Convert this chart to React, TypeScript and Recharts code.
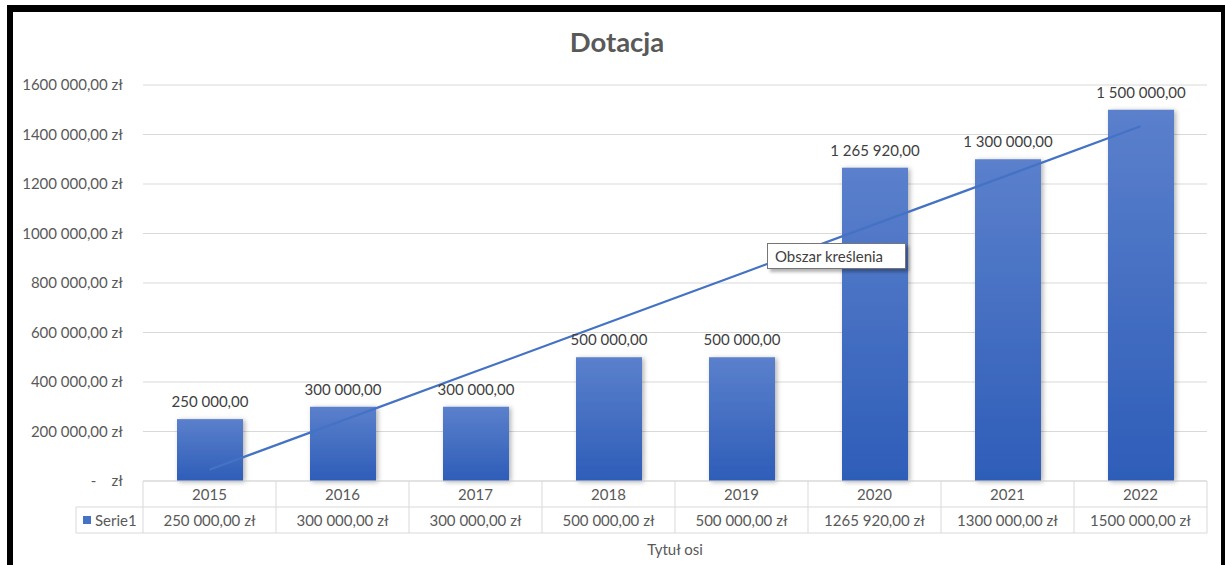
import { ComposedChart, Bar, Line, XAxis, YAxis, CartesianGrid, LabelList } from 'recharts';

const years = ['2015', '2016', '2017', '2018', '2019', '2020', '2021', '2022'];
const dotacja = [250000, 300000, 300000, 500000, 500000, 1265920, 1300000, 1500000];
const barLabels = ['250 000,00', '300 000,00', '300 000,00', '500 000,00', '500 000,00', '1 265 920,00', '1 300 000,00', '1 500 000,00'];
const tableLabels = ['250 000,00 zł', '300 000,00 zł', '300 000,00 zł', '500 000,00 zł', '500 000,00 zł', '1265 920,00 zł', '1300 000,00 zł', '1500 000,00 zł'];
const yTicks = [0, 200000, 400000, 600000, 800000, 1000000, 1200000, 1400000, 1600000];
const yTickLabels = ['-\u00a0\u00a0\u00a0\u00a0zł', '200 000,00 zł', '400 000,00 zł', '600 000,00 zł', '800 000,00 zł', '1000 000,00 zł', '1200 000,00 zł', '1400 000,00 zł', '1600 000,00 zł'];

// liniowa linia trendu (jak w Excelu)
const n = dotacja.length;
const mx = (n + 1) / 2;
const my = dotacja.reduce((s, v) => s + v, 0) / n;
const slope = dotacja.reduce((s, v, i) => s + (i + 1 - mx) * (v - my), 0) /
    dotacja.reduce((s, _v, i) => s + (i + 1 - mx) ** 2, 0);

const data = years.map((year, i) => ({
    year,
    value: dotacja[i],
    label: barLabels[i],
    table: tableLabels[i],
    trend: my + slope * (i + 1 - mx),
}));

const W = 1225;
const H = 565;
const PLOT_LEFT = 143;
const PLOT_RIGHT = 1207;
const PLOT_BOTTOM = 481;
const ROW_MID = 507;
const ROW_BOTTOM = 533;
const BAND = (PLOT_RIGHT - PLOT_LEFT) / years.length;
const FONT = "Lato, 'Open Sans', sans-serif";
const FS = 15;
const GRID = '#d9d9d9';
const TXT = '#595959';

function TableTick(props: any) {
    const { x, index } = props;
    const i = index ?? props.payload?.index ?? 0;
    const l = x - BAND / 2;
    const r = x + BAND / 2;
    return (
        <g>
            <line x1={l} x2={r} y1={PLOT_BOTTOM} y2={PLOT_BOTTOM} stroke={GRID} />
            <line x1={l} x2={r} y1={ROW_MID} y2={ROW_MID} stroke={GRID} />
            <line x1={l} x2={r} y1={ROW_BOTTOM} y2={ROW_BOTTOM} stroke={GRID} />
            <line x1={l} x2={l} y1={PLOT_BOTTOM} y2={ROW_BOTTOM} stroke={GRID} />
            {i === years.length - 1 && <line x1={r} x2={r} y1={PLOT_BOTTOM} y2={ROW_BOTTOM} stroke={GRID} />}
            <text x={x} y={(PLOT_BOTTOM + ROW_MID) / 2} textAnchor="middle" dominantBaseline="central" fontSize={FS} fill={TXT} fontFamily={FONT}>
                {data[i].year}
            </text>
            <text x={x} y={(ROW_MID + ROW_BOTTOM) / 2} textAnchor="middle" dominantBaseline="central" fontSize={FS} fill={TXT} fontFamily={FONT}>
                {data[i].table}
            </text>
            {i === 0 && (
                <g>
                    <line x1={76} x2={l} y1={ROW_MID} y2={ROW_MID} stroke={GRID} />
                    <line x1={76} x2={l} y1={ROW_BOTTOM} y2={ROW_BOTTOM} stroke={GRID} />
                    <line x1={76} x2={76} y1={ROW_MID} y2={ROW_BOTTOM} stroke={GRID} />
                    <rect x={83} y={(ROW_MID + ROW_BOTTOM) / 2 - 4} width={8} height={8} fill="#4472c4" />
                    <text x={95} y={(ROW_MID + ROW_BOTTOM) / 2} dominantBaseline="central" fontSize={FS} fill={TXT} fontFamily={FONT}>
                        Serie1
                    </text>
                </g>
            )}
        </g>
    );
}

function ShadowBar(props: any) {
    const { x, y, width, height } = props;
    return <rect x={x} y={y} width={width} height={height} fill="url(#barGrad)" filter="url(#barShadow)" />;
}

function BarLabel(props: any) {
    const { x, y, width, value } = props;
    return (
        <text x={x + width / 2} y={y - 12} textAnchor="middle" fontSize={FS} fill="#404040" fontFamily={FONT}>
            {value}
        </text>
    );
}

export default function App() {
    return (
        <div style={{ position: 'relative', width: W, height: H, background: '#fff', overflow: 'hidden' }}>
            <style>{'body{margin:0}'}</style>
            <ComposedChart width={W} height={H} data={data} margin={{ top: 85, right: W - PLOT_RIGHT, left: 0, bottom: 0 }}>
                <defs>
                    <linearGradient id="barGrad" x1="0" y1="0" x2="0" y2="1">
                        <stop offset="0%" stopColor="#5b80cc" />
                        <stop offset="100%" stopColor="#2e5db8" />
                    </linearGradient>
                    <filter id="barShadow" x="-20%" y="-10%" width="140%" height="120%">
                        <feDropShadow dx="2" dy="1" stdDeviation="2.5" floodColor="#000" floodOpacity="0.3" />
                    </filter>
                </defs>
                <CartesianGrid vertical={false} stroke={GRID} />
                <YAxis
                    width={PLOT_LEFT}
                    domain={[0, 1600000]}
                    ticks={yTicks}
                    interval={0}
                    axisLine={false}
                    tickLine={false}
                    tickMargin={14}
                    tick={{ fill: TXT, fontSize: FS, fontFamily: FONT }}
                    tickFormatter={(v: number) => yTickLabels[yTicks.indexOf(v)]}
                />
                <XAxis
                    dataKey="year"
                    height={H - PLOT_BOTTOM}
                    axisLine={false}
                    tickLine={false}
                    interval={0}
                    tick={<TableTick />}
                    label={{ value: 'Tytuł osi', position: 'insideBottom', offset: 10, fill: TXT, fontSize: FS, fontFamily: FONT }}
                />
                <Bar dataKey="value" barSize={66} fill="#4472c4" shape={<ShadowBar />} isAnimationActive={false}>
                    <LabelList dataKey="label" content={<BarLabel />} />
                </Bar>
                <Line dataKey="trend" type="linear" stroke="#4472c4" strokeWidth={2.2} dot={false} activeDot={false} isAnimationActive={false} />
                <text x={617} y={52} textAnchor="middle" fontSize={27.5} fontWeight="bold" fill={TXT} fontFamily={FONT}>
                    Dotacja
                </text>
            </ComposedChart>
            <div
                style={{
                    position: 'absolute', left: 767, top: 243, width: 139, height: 26, boxSizing: 'border-box',
                    background: '#fff', border: '1px solid #767676', boxShadow: '3px 3px 3px rgba(0,0,0,0.3)',
                    fontFamily: FONT, fontSize: FS, color: '#404040', lineHeight: '24px', paddingLeft: 7,
                }}
            >
                Obszar kreślenia
            </div>
            <div style={{ position: 'absolute', left: 7, top: 5, width: 6, height: H, background: '#000' }} />
            <div style={{ position: 'absolute', left: 7, top: 5, width: W, height: 7, background: '#000' }} />
            <div style={{ position: 'absolute', left: 1221, top: 5, width: 6, height: H, background: '#000' }} />
        </div>
    );
}
